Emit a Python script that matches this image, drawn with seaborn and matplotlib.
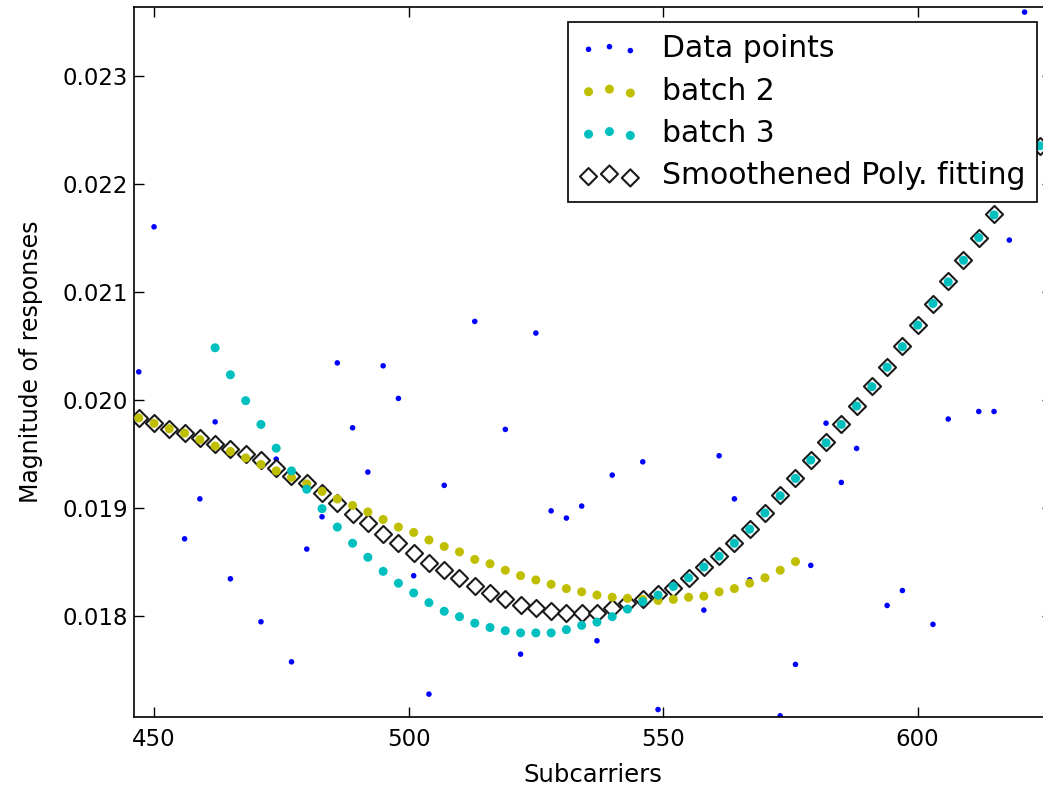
import matplotlib
matplotlib.use("Agg")
import matplotlib.pyplot as plt
from matplotlib.ticker import FormatStrFormatter
import seaborn as sns

# raw magnitude samples (every 3rd subcarrier, visible ones)
data_x = [447, 450, 456, 459, 462, 465, 471, 474, 477, 480, 483, 486, 489, 492,
          495, 498, 501, 504, 507, 513, 519, 522, 525, 528, 531, 534, 537, 540,
          546, 549, 558, 561, 564, 567, 573, 576, 579, 582, 585, 588, 594, 597,
          603, 606, 612, 615, 618, 621]
data_y = [0.020257, 0.021600, 0.018711, 0.019081, 0.019794, 0.018341, 0.017943,
          0.019449, 0.017572, 0.018616, 0.018915, 0.020340, 0.019739, 0.019329,
          0.020313, 0.020011, 0.018369, 0.017273, 0.019206, 0.020724, 0.019724,
          0.017643, 0.020616, 0.018970, 0.018903, 0.019014, 0.017767, 0.019301,
          0.019424, 0.017130, 0.018051, 0.019480, 0.019081, 0.018332, 0.017072,
          0.017548, 0.018465, 0.019782, 0.019233, 0.019548, 0.018094, 0.018232,
          0.017919, 0.019820, 0.019890, 0.019890, 0.021477, 0.023588]

# batch 2 fit
batch2_x = list(range(447, 577, 3))
batch2_y = [0.01983, 0.01978, 0.01973, 0.01969, 0.01963, 0.01957, 0.01952, 0.01946,
            0.01940, 0.01934, 0.01928, 0.01922, 0.01915, 0.01908, 0.01902, 0.01896,
            0.01889, 0.01882, 0.01877, 0.01870, 0.01864, 0.01859, 0.01852, 0.01848,
            0.01842, 0.01837, 0.01833, 0.01829, 0.01825, 0.01822, 0.01819, 0.01817,
            0.01816, 0.01815, 0.01814, 0.01815, 0.01817, 0.01818, 0.01822, 0.01825,
            0.01830, 0.01835, 0.01842, 0.01850]

# batch 3 fit
batch3_x = list(range(462, 625, 3))
batch3_y = [0.02048, 0.02023, 0.01999, 0.01977, 0.01955, 0.01934, 0.01917, 0.01899,
            0.01882, 0.01867, 0.01854, 0.01841, 0.01830, 0.01821, 0.01812, 0.01804,
            0.01799, 0.01793, 0.01789, 0.01786, 0.01784, 0.01784, 0.01784, 0.01787,
            0.01791, 0.01794, 0.01799, 0.01806, 0.01813, 0.01819, 0.01827, 0.01835,
            0.01845, 0.01855, 0.01867, 0.01880, 0.01895, 0.01911, 0.01927, 0.01944,
            0.01960, 0.01977, 0.01994, 0.02012, 0.02030, 0.02049, 0.02069, 0.02089,
            0.02109, 0.02129, 0.02150, 0.02171, 0.02193, 0.02214, 0.02235]

# smoothened polynomial fit
fit_x = list(range(447, 625, 3))
fit_y = [0.019826, 0.019780, 0.019727, 0.019687, 0.019641, 0.019588, 0.019539,
         0.019493, 0.019440, 0.019369, 0.019294, 0.019224, 0.019131, 0.019039,
         0.018940, 0.018854, 0.018755, 0.018669, 0.018576, 0.018489, 0.018421,
         0.018344, 0.018273, 0.018206, 0.018153, 0.018097, 0.018067, 0.018044,
         0.018020, 0.018020, 0.018026, 0.018067, 0.018119, 0.018150, 0.018200,
         0.018260, 0.018350, 0.018450, 0.018550, 0.018670, 0.018801, 0.018949,
         0.019116, 0.019270, 0.019440, 0.019606, 0.019770, 0.019943, 0.020125,
         0.020306, 0.020498, 0.020690, 0.020888, 0.021094, 0.021291, 0.021500,
         0.021715, 0.021930, 0.022140, 0.022350]

sns.set_style("white")
plt.rcParams["font.family"] = ["DejaVu Sans"]
plt.rcParams["text.color"] = "black"
plt.rcParams["axes.labelcolor"] = "black"

fig = plt.figure(figsize=(10.43, 7.88), dpi=100)
# axes run a little past the right edge (original picture is cropped there)
ax = fig.add_axes([0.1285, 0.0905, 0.8802, 0.9003])

sns.scatterplot(x=data_x, y=data_y, color="b", s=16, linewidth=0,
                edgecolor="none", label="Data points", ax=ax, zorder=1)
sns.scatterplot(x=batch2_x, y=batch2_y, color="y", s=42, linewidth=0,
                edgecolor="none", label="batch 2", ax=ax, zorder=3)
sns.scatterplot(x=batch3_x, y=batch3_y, color="c", s=42, linewidth=0,
                edgecolor="none", label="batch 3", ax=ax, zorder=3)
sns.scatterplot(x=fit_x, y=fit_y, marker="D", s=76, color="black",
                facecolor="white", edgecolor="#1a1a1a", linewidth=1.5,
                label="Smoothened Poly. fitting", ax=ax, zorder=2)

ax.set_xlim(446.07, 626.4)
ax.set_ylim(0.017064, 0.023633)
ax.set_xticks([450, 500, 550, 600])
ax.set_yticks([0.018, 0.019, 0.020, 0.021, 0.022, 0.023])
ax.yaxis.set_major_formatter(FormatStrFormatter("%.3f"))

ax.tick_params(axis="both", direction="in", length=7, width=1, labelsize=16.5,
               top=True, right=True, bottom=True, left=True, colors="black")
ax.tick_params(axis="x", pad=8.5)
ax.tick_params(axis="y", pad=4.5)
for sp in ax.spines.values():
    sp.set_visible(True)
    sp.set_color("black")
    sp.set_linewidth(1.2)

ax.set_xlabel("Subcarriers", fontsize=17.5, labelpad=8.5)
ax.set_ylabel("Magnitude of responses", fontsize=17, labelpad=13.5)

leg = ax.legend(loc="upper right", fontsize=21.5, scatterpoints=3, frameon=True,
                fancybox=False, framealpha=1, borderaxespad=0.5,
                labelspacing=0.45, handlelength=2, handletextpad=0.75,
                borderpad=0.4)
leg.get_frame().set_edgecolor("black")
leg.get_frame().set_linewidth(1.2)
for t in leg.get_texts():
    t.set_color("black")

fig.savefig("out.png", dpi=100)
